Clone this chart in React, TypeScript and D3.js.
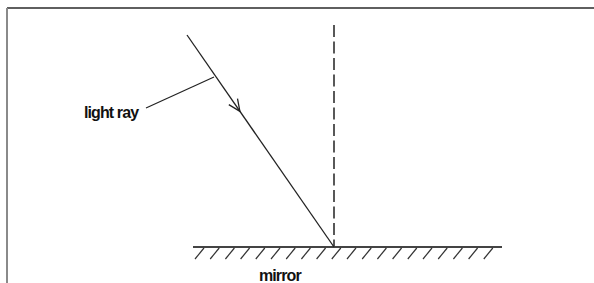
import React, { useEffect, useRef } from 'react';
import * as d3 from 'd3';

// diagram units: origin at the point of incidence, y up from the mirror
const mirrorExtent = [-141, 168];
const normalHeight = 222;
const rayStart = [-147, 212];
const rayEnd = [0, 0];
const arrowAt = 0.36; // fraction along the ray from its start
const leaderFrom = [-188, 139];
const leaderTo = [-120, 170];
const hatchCount = 20;
const hatchFirst = -139;
const hatchStep = 15.2;
const labels = [
  { text: 'light ray', x: -250, y: 129, anchor: 'start' },
  { text: 'mirror', x: -75, y: -33.5, anchor: 'start' },
];

const W = 594;
const H = 283;

const App = () => {
  const svgRef = useRef<SVGSVGElement>(null);

  useEffect(() => {
    const svg = d3.select(svgRef.current);
    svg.selectAll('*').remove();

    const x = d3.scaleLinear().domain(mirrorExtent).range([193, 502]);
    const y = d3.scaleLinear().domain([0, normalHeight]).range([247, 25]);

    // frame
    svg.append('line').attr('x1', 7).attr('y1', 8).attr('x2', W).attr('y2', 8)
      .attr('stroke', '#2a2a2a').attr('stroke-width', 1.5);
    svg.append('line').attr('x1', 7).attr('y1', 8).attr('x2', 7).attr('y2', H)
      .attr('stroke', '#8a8a8a').attr('stroke-width', 2);

    // normal
    svg.append('line')
      .attr('x1', x(0)).attr('y1', y(normalHeight))
      .attr('x2', x(0)).attr('y2', y(0))
      .attr('stroke', '#222').attr('stroke-width', 1.5)
      .attr('stroke-dasharray', '12,4.5');

    // mirror
    svg.append('line')
      .attr('x1', x(mirrorExtent[0])).attr('y1', y(0))
      .attr('x2', x(mirrorExtent[1])).attr('y2', y(0))
      .attr('stroke', '#444').attr('stroke-width', 2);

    const hatches = d3.range(hatchCount).map((i) => hatchFirst + i * hatchStep);
    svg.append('g').selectAll('line').data(hatches).enter().append('line')
      .attr('x1', (d) => x(d)).attr('y1', y(-12))
      .attr('x2', (d) => x(d + 9)).attr('y2', y(-1))
      .attr('stroke', '#333').attr('stroke-width', 1.2);

    // incident ray
    svg.append('line')
      .attr('x1', x(rayStart[0])).attr('y1', y(rayStart[1]))
      .attr('x2', x(rayEnd[0])).attr('y2', y(rayEnd[1]))
      .attr('stroke', '#222').attr('stroke-width', 1.3);

    // open arrowhead along the ray
    const px1 = x(rayStart[0]), py1 = y(rayStart[1]);
    const px2 = x(rayEnd[0]), py2 = y(rayEnd[1]);
    const tx = px1 + (px2 - px1) * arrowAt;
    const ty = py1 + (py2 - py1) * arrowAt;
    const back = Math.atan2(py1 - py2, px1 - px2);
    const len = 13;
    const spread = (24 * Math.PI) / 180;
    const arrow = d3.line()([
      [tx + len * Math.cos(back - spread), ty + len * Math.sin(back - spread)],
      [tx, ty],
      [tx + len * Math.cos(back + spread), ty + len * Math.sin(back + spread)],
    ]);
    svg.append('path').attr('d', arrow).attr('fill', 'none')
      .attr('stroke', '#222').attr('stroke-width', 1.3);

    // label leader
    svg.append('line')
      .attr('x1', x(leaderFrom[0])).attr('y1', y(leaderFrom[1]))
      .attr('x2', x(leaderTo[0])).attr('y2', y(leaderTo[1]))
      .attr('stroke', '#222').attr('stroke-width', 1.2);

    svg.append('g').selectAll('text').data(labels).enter().append('text')
      .attr('x', (d) => x(d.x)).attr('y', (d) => y(d.y))
      .attr('text-anchor', (d) => d.anchor)
      .attr('font-family', 'Liberation Sans, Arial, sans-serif')
      .attr('font-weight', 'bold')
      .attr('font-size', 16)
      .attr('letter-spacing', -0.9)
      .attr('fill', '#111')
      .text((d) => d.text);
  }, []);

  return (
    <svg
      ref={svgRef}
      width={W}
      height={H}
      style={{ position: 'fixed', left: 0, top: 0, background: '#fff' }}
    />
  );
};

export default App;
